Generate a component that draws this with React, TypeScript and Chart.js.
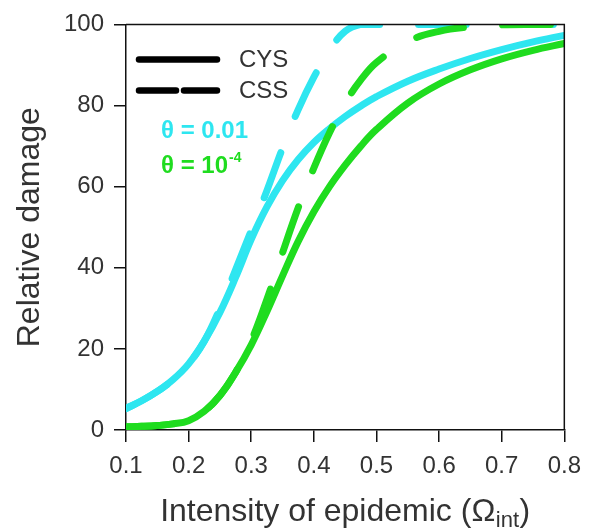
import React, { useEffect, useRef } from "react";
import { Chart, registerables } from "chart.js";

Chart.register(...registerables);

const FONT = "'Liberation Sans', Arial, Helvetica, sans-serif";
const CYAN = "#2ee6f0";
const GREEN = "#1fdc1f";
const TEXT = "#333333";

// Intensity of epidemic (Ω_int)
const xs = [0.1, 0.125, 0.15, 0.175, 0.2, 0.225, 0.25, 0.275, 0.3, 0.325, 0.35, 0.375, 0.4, 0.425, 0.45, 0.475, 0.5, 0.55, 0.6, 0.65, 0.7, 0.75, 0.8];

// θ = 0.01 (cyan)
const cysHigh = [5.3, 7.2, 9.5, 12.4, 16.3, 21.9, 29.0, 37.6, 47.0, 55.0, 61.5, 66.7, 70.9, 74.3, 77.3, 79.9, 82.2, 86.0, 89.0, 91.6, 93.8, 95.7, 97.3];
const cssHigh = [5.3, 7.2, 9.5, 12.4, 16.3, 21.9, 30.0, 39.5, 49.2, 59.0, 69.5, 79.0, 87.0, 93.6, 98.3, 100, 100, 100, 100, 100, 100, 100, 100];

// θ = 10^-4 (green)
const cysLow = [0.8, 0.9, 1.1, 1.5, 2.3, 4.6, 8.5, 14.2, 21.0, 29.2, 38.0, 46.5, 53.8, 60.0, 65.3, 70.0, 74.1, 80.6, 85.3, 88.8, 91.5, 93.6, 95.3];
const cssLow = [0.8, 0.9, 1.1, 1.5, 2.3, 4.6, 8.5, 14.2, 22.0, 32.2, 43.7, 54.8, 64.6, 73.3, 80.6, 86.3, 90.6, 95.8, 98.3, 99.4, 99.9, 100, 100];

const xTicks = [0.1, 0.2, 0.3, 0.4, 0.5, 0.6, 0.7, 0.8];
const yTicks = [0, 20, 40, 60, 80, 100];

const legendLabels = ["CYS", "CSS"];
const thetaLabels = ["θ = 0.01", "θ = 10"];
const thetaSup = ["", "-4"];
const thetaColors = [CYAN, GREEN];
const xTitleMain = "Intensity of epidemic (Ω";
const xTitleSub = "int";
const xTitleEnd = ")";
const yTitle = "Relative damage";

const toPts = (ys: number[]) => xs.map((x, i) => ({ x, y: ys[i] }));

const overlay = {
  id: "overlay",
  afterDraw(chart: any) {
    const { ctx, chartArea: a } = chart;
    ctx.save();
    // box top & right
    ctx.strokeStyle = "#111";
    ctx.lineWidth = 1.5;
    ctx.beginPath();
    ctx.moveTo(a.left, a.top);
    ctx.lineTo(a.right, a.top);
    ctx.lineTo(a.right, a.bottom);
    ctx.stroke();

    // legend lines
    ctx.strokeStyle = "#000";
    ctx.lineWidth = 6.5;
    ctx.lineCap = "round";
    const lx0 = a.left + 13;
    const lx1 = a.left + 91;
    const ly0 = a.top + 35;
    const ly1 = a.top + 66;
    ctx.beginPath();
    ctx.moveTo(lx0, ly0);
    ctx.lineTo(lx1, ly0);
    ctx.stroke();
    ctx.beginPath();
    ctx.moveTo(lx0, ly1);
    ctx.lineTo(lx0 + 37, ly1);
    ctx.moveTo(lx0 + 45, ly1);
    ctx.lineTo(lx1, ly1);
    ctx.stroke();

    ctx.fillStyle = TEXT;
    ctx.font = `24px ${FONT}`;
    ctx.textBaseline = "middle";
    ctx.textAlign = "left";
    ctx.fillText(legendLabels[0], a.left + 113, ly0 + 1);
    ctx.fillText(legendLabels[1], a.left + 113, ly1 + 1);

    // theta labels
    const tx = a.left + 35;
    const tys = [a.top + 114, a.top + 149];
    thetaLabels.forEach((t, i) => {
      ctx.fillStyle = thetaColors[i];
      ctx.font = `bold 24px ${FONT}`;
      ctx.textBaseline = "alphabetic";
      ctx.fillText(t, tx, tys[i]);
      if (thetaSup[i]) {
        const w = ctx.measureText(t).width;
        ctx.font = `bold 14px ${FONT}`;
        ctx.fillText(thetaSup[i], tx + w + 1, tys[i] - 11);
      }
    });

    // x axis title with subscript
    ctx.fillStyle = TEXT;
    ctx.textBaseline = "alphabetic";
    const mainFont = `32px ${FONT}`;
    const subFont = `22px ${FONT}`;
    ctx.font = mainFont;
    const w1 = ctx.measureText(xTitleMain).width;
    const w3 = ctx.measureText(xTitleEnd).width;
    ctx.font = subFont;
    const w2 = ctx.measureText(xTitleSub).width;
    const total = w1 + w2 + w3 + 1;
    const cx = (a.left + a.right) / 2;
    const by = a.bottom + 91;
    let x = cx - total / 2;
    ctx.font = mainFont;
    ctx.fillText(xTitleMain, x, by);
    x += w1 + 0.5;
    ctx.font = subFont;
    ctx.fillText(xTitleSub, x, by + 6);
    x += w2 + 0.5;
    ctx.font = mainFont;
    ctx.fillText(xTitleEnd, x, by);
    ctx.restore();
  },
};

export default function App() {
  const ref = useRef<HTMLCanvasElement | null>(null);
  useEffect(() => {
    if (!ref.current) return;
    Chart.defaults.font.family = FONT;
    const dashCommon = {
      borderWidth: 7,
      borderCapStyle: "round" as const,
      borderDash: [48, 39],
      pointRadius: 0,
      tension: 0.4,
      clip: 0,
    };
    const solidCommon = {
      borderWidth: 7,
      borderCapStyle: "round" as const,
      pointRadius: 0,
      tension: 0.4,
      clip: 0,
    };
    const chart = new Chart(ref.current, {
      type: "line",
      data: {
        datasets: [
          { label: "CSS θ=1e-4", data: toPts(cssLow), borderColor: GREEN, ...dashCommon },
          { label: "CSS θ=0.01", data: toPts(cssHigh), borderColor: CYAN, ...dashCommon },
          { label: "CYS θ=1e-4", data: toPts(cysLow), borderColor: GREEN, ...solidCommon },
          { label: "CYS θ=0.01", data: toPts(cysHigh), borderColor: CYAN, ...solidCommon },
        ],
      },
      options: {
        animation: false,
        responsive: true,
        maintainAspectRatio: false,
        layout: { padding: { top: 20, right: 22, left: 0, bottom: 0 } },
        plugins: { legend: { display: false }, tooltip: { enabled: false } },
        scales: {
          x: {
            type: "linear",
            min: 0.1,
            max: 0.8,
            afterBuildTicks: (s: any) => {
              s.ticks = xTicks.map((v) => ({ value: v }));
            },
            afterFit: (s: any) => {
              s.height = 98;
            },
            ticks: {
              color: TEXT,
              font: { size: 24, family: FONT },
              padding: 10,
              maxRotation: 0,
              autoSkip: false,
              callback: (v: any) => Number(v).toFixed(1),
            },
            grid: {
              display: true,
              drawOnChartArea: false,
              drawTicks: true,
              tickLength: 12,
              tickColor: "#111",
              tickWidth: 1.5,
              color: "#111",
              lineWidth: 1.5,
            },
            border: { display: true, color: "#111", width: 1.5 },
          },
          y: {
            min: 0,
            max: 100,
            afterBuildTicks: (s: any) => {
              s.ticks = yTicks.map((v) => ({ value: v }));
            },
            afterFit: (s: any) => {
              s.width = 126;
            },
            ticks: {
              color: TEXT,
              font: { size: 24, family: FONT },
              padding: 10,
              autoSkip: false,
            },
            grid: {
              display: true,
              drawOnChartArea: false,
              drawTicks: true,
              tickLength: 12,
              tickColor: "#111",
              tickWidth: 1.5,
              color: "#111",
              lineWidth: 1.5,
            },
            border: { display: true, color: "#111", width: 1.5 },
            title: {
              display: true,
              text: yTitle,
              color: TEXT,
              font: { size: 32, family: FONT },
              padding: { top: 11, bottom: 0 },
            },
          },
        },
      },
      plugins: [overlay],
    });
    return () => chart.destroy();
  }, []);
  return (
    <div style={{ position: "fixed", left: 0, top: 0, width: 591, height: 528, background: "#fff" }}>
      <canvas ref={ref} />
    </div>
  );
}
